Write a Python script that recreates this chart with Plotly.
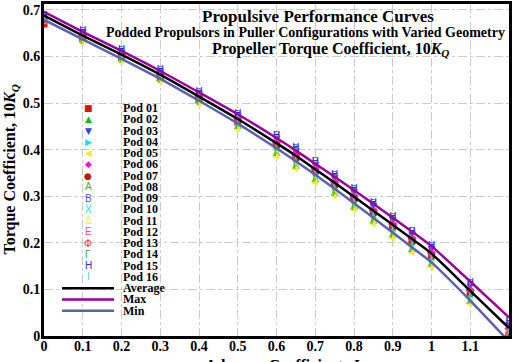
import plotly.graph_objects as go

J = [0, 0.1, 0.2, 0.3, 0.4, 0.5, 0.6, 0.65, 0.7, 0.75, 0.8, 0.85, 0.9, 0.95, 1.0, 1.1, 1.2]

avg_line = [0.688,0.645,0.604,0.561,0.514,0.466,0.414,0.387,0.358,0.329,0.299,0.269,0.239,0.208,0.177,0.097,0.017]
max_line = [0.696,0.653,0.612,0.569,0.523,0.476,0.425,0.398,0.370,0.342,0.313,0.284,0.254,0.224,0.193,0.117,0.040]
min_line = [0.679,0.637,0.595,0.552,0.505,0.456,0.403,0.375,0.346,0.316,0.285,0.254,0.222,0.190,0.158,0.076,-0.012]

pod01 = [0.670,0.639,0.598,0.555,0.508,0.460,0.411,0.384,0.355,0.326,0.296,0.266,0.236,0.205,0.174,0.094,0.002]
pod02 = [0.678,0.635,0.594,0.551,0.504,0.448,0.390,0.363,0.334,0.305,0.275,0.245,0.215,0.184,0.153,0.073,0.005]
pod03 = [0.684,0.653,0.611,0.568,0.521,0.474,0.426,0.399,0.370,0.341,0.311,0.281,0.251,0.220,0.189,0.109,0.027]
pod04 = [0.680,0.643,0.602,0.559,0.512,0.462,0.406,0.379,0.350,0.321,0.291,0.261,0.231,0.200,0.169,0.089,0.012]
pod05 = [0.676,0.631,0.590,0.547,0.499,0.445,0.386,0.359,0.330,0.301,0.271,0.241,0.211,0.180,0.149,0.069,0.004]
pod06 = [0.682,0.647,0.606,0.563,0.516,0.468,0.415,0.388,0.359,0.330,0.300,0.270,0.240,0.209,0.178,0.098,0.016]
pod07 = [0.674,0.641,0.600,0.557,0.510,0.462,0.408,0.381,0.352,0.323,0.293,0.263,0.233,0.202,0.171,0.091,0.000]
pod08 = [0.677,0.634,0.593,0.550,0.503,0.450,0.392,0.365,0.336,0.307,0.277,0.247,0.217,0.186,0.155,0.075,0.006]
pod09 = [0.683,0.652,0.611,0.568,0.521,0.474,0.428,0.401,0.372,0.343,0.313,0.283,0.253,0.222,0.191,0.111,0.029]
pod10 = [0.679,0.642,0.601,0.558,0.511,0.461,0.404,0.377,0.348,0.319,0.289,0.259,0.229,0.198,0.167,0.087,0.010]
pod11 = [0.675,0.632,0.591,0.548,0.500,0.446,0.388,0.361,0.332,0.303,0.273,0.243,0.213,0.182,0.151,0.071,0.004]
pod12 = [0.683,0.648,0.607,0.564,0.517,0.469,0.417,0.390,0.361,0.332,0.302,0.272,0.242,0.211,0.180,0.100,0.018]
pod13 = [0.672,0.640,0.599,0.556,0.509,0.461,0.410,0.383,0.354,0.325,0.295,0.265,0.235,0.204,0.173,0.093,0.001]
pod14 = [0.676,0.633,0.592,0.549,0.502,0.449,0.391,0.364,0.335,0.306,0.276,0.246,0.216,0.185,0.154,0.074,0.005]
pod15 = [0.685,0.653,0.612,0.569,0.522,0.475,0.429,0.402,0.373,0.344,0.314,0.284,0.254,0.223,0.192,0.112,0.030]
pod16 = [0.680,0.643,0.602,0.559,0.512,0.462,0.402,0.375,0.346,0.317,0.287,0.257,0.227,0.196,0.165,0.085,0.010]

pod_names = ["Pod %02d" % i for i in range(1, 17)]
pod_values = [pod01, pod02, pod03, pod04, pod05, pod06, pod07, pod08,
              pod09, pod10, pod11, pod12, pod13, pod14, pod15, pod16]

# marker pods (1-7): plotly symbol, legend glyph, colour
marker_styles = [
    ("square", "■", "#dd1111"),
    ("triangle-up", "▲", "#11bb11"),
    ("triangle-down", "▼", "#3344ee"),
    ("triangle-right", "▶", "#11ddee"),
    ("triangle-left", "◀", "#eeee22"),
    ("diamond", "◆", "#ee11ee"),
    ("circle", "●", "#cc1111"),
]
# letter pods (8-16)
letter_styles = [
    ("Α", "#33bb33"), ("Β", "#5555ee"), ("Χ", "#22ddee"), ("Δ", "#eeee55"),
    ("Ε", "#dd44dd"), ("Φ", "#ee3333"), ("Γ", "#33aa33"), ("Η", "#2233cc"),
    ("Ι", "#44dddd"),
]

SERIF = "Liberation Serif"
fig = go.Figure()

for i, vals in enumerate(pod_values):
    if i < 7:
        sym, _, col = marker_styles[i]
        fig.add_trace(go.Scatter(x=J, y=vals, mode="markers", name=pod_names[i],
                                 marker=dict(symbol=sym, color=col, size=7),
                                 showlegend=False))
    else:
        ch, col = letter_styles[i - 7]
        fig.add_trace(go.Scatter(x=J, y=vals, mode="text", name=pod_names[i],
                                 text=[ch] * len(J),
                                 textfont=dict(family="Liberation Sans", size=10, color=col),
                                 showlegend=False))

line_styles = [("Average", avg_line, "black"), ("Max", max_line, "#990099"),
               ("Min", min_line, "#5a62b0")]
for name, vals, col in line_styles:
    fig.add_trace(go.Scatter(x=J, y=vals, mode="lines", name=name,
                             line=dict(color=col, width=2.5, shape="spline", smoothing=0.6),
                             showlegend=False))

annotations = []
shapes = []
# Plot-area geometry helpers (pixels -> paper)
PX_L, PX_R, PX_T, PX_B = 44, 509, 1, 336
def px_x(px):
    return (px - PX_L) / (PX_R - PX_L)
def px_y(py):
    return (PX_B - py) / (PX_B - PX_T)

# Manual legend
y0, dy = 106, 11.36
for i in range(16):
    py = y0 + dy * i
    if i < 7:
        _, glyph, col = marker_styles[i]
        annotations.append(dict(x=px_x(88), y=px_y(py), xref="paper", yref="paper",
                                text=glyph, showarrow=False, xanchor="center", yanchor="middle",
                                font=dict(family="DejaVu Sans", size=9, color=col)))
    else:
        ch, col = letter_styles[i - 7]
        annotations.append(dict(x=px_x(88), y=px_y(py), xref="paper", yref="paper",
                                text=ch, showarrow=False, xanchor="center", yanchor="middle",
                                font=dict(family="Liberation Sans", size=10, color=col)))
    annotations.append(dict(x=px_x(121), y=px_y(py), xref="paper", yref="paper",
                            text=pod_names[i], showarrow=False, xanchor="left", yanchor="middle",
                            font=dict(family=SERIF, size=12, color="black", weight="bold")))
for k, (name, vals, col) in enumerate(line_styles):
    py = y0 + dy * (16 + k)
    shapes.append(dict(type="line", xref="paper", yref="paper", x0=px_x(62), x1=px_x(114),
                       y0=px_y(py), y1=px_y(py), line=dict(color=col, width=2.5)))
    annotations.append(dict(x=px_x(121), y=px_y(py), xref="paper", yref="paper",
                            text=name, showarrow=False, xanchor="left", yanchor="middle",
                            font=dict(family=SERIF, size=12, color="black", weight="bold")))

# Titles
annotations += [
    dict(x=px_x(318), y=px_y(14), xref="paper", yref="paper", showarrow=False,
         text="Propulsive Performance Curves", xanchor="center", yanchor="middle",
         font=dict(family=SERIF, size=17, color="black", weight="bold")),
    dict(x=px_x(305), y=px_y(30), xref="paper", yref="paper", showarrow=False,
         text="Podded Propulsors in Puller Configurations with Varied Geometry",
         xanchor="center", yanchor="middle",
         font=dict(family=SERIF, size=14, color="black", weight="bold")),
    dict(x=px_x(330), y=px_y(47), xref="paper", yref="paper", showarrow=False,
         text="Propeller Torque Coefficient, 10<i>K</i><sub><i>Q</i></sub>",
         xanchor="center", yanchor="middle",
         font=dict(family=SERIF, size=16, color="black", weight="bold")),
    dict(x=px_x(11), y=px_y(168), xref="paper", yref="paper", showarrow=False,
         text="Torque Coefficient, 10<i>K</i><sub><i>Q</i></sub>", textangle=-90,
         xanchor="center", yanchor="middle",
         font=dict(family=SERIF, size=16, color="black", weight="bold")),
    dict(x=px_x(282), y=px_y(366), xref="paper", yref="paper", showarrow=False,
         text="Advance Coefficient, <i>J</i>", xanchor="center", yanchor="middle",
         font=dict(family=SERIF, size=16, color="black", weight="bold")),
]

axis_common = dict(showline=True, linecolor="black", linewidth=3, mirror=True,
                   showgrid=True, gridcolor="#cccccc", gridwidth=1, griddash="dashdot",
                   zeroline=False, ticks="", dtick=0.1,
                   tickfont=dict(family=SERIF, size=14, color="black", weight="bold"))

fig.update_layout(
    width=514, height=362,
    margin=dict(l=PX_L, r=514 - PX_R, t=PX_T, b=362 - PX_B),
    paper_bgcolor="white", plot_bgcolor="white",
    xaxis=dict(range=[0, 1.2], tick0=0, ticklabelstandoff=-5, **axis_common),
    yaxis=dict(range=[0, 0.7128], tick0=0, ticklabelstandoff=-2, **axis_common),
    annotations=annotations, shapes=shapes, showlegend=False,
)
fig.update_xaxes(tickvals=[0, 0.1, 0.2, 0.3, 0.4, 0.5, 0.6, 0.7, 0.8, 0.9, 1.0, 1.1, 1.2],
                 ticktext=["0", "0.1", "0.2", "0.3", "0.4", "0.5", "0.6", "0.7", "0.8", "0.9", "1", "1.1", "1.2"])
fig.update_yaxes(tickvals=[0, 0.1, 0.2, 0.3, 0.4, 0.5, 0.6, 0.7],
                 ticktext=["0", "0.1", "0.2", "0.3", "0.4", "0.5", "0.6", "0.7"])

fig.write_html("out.html")
